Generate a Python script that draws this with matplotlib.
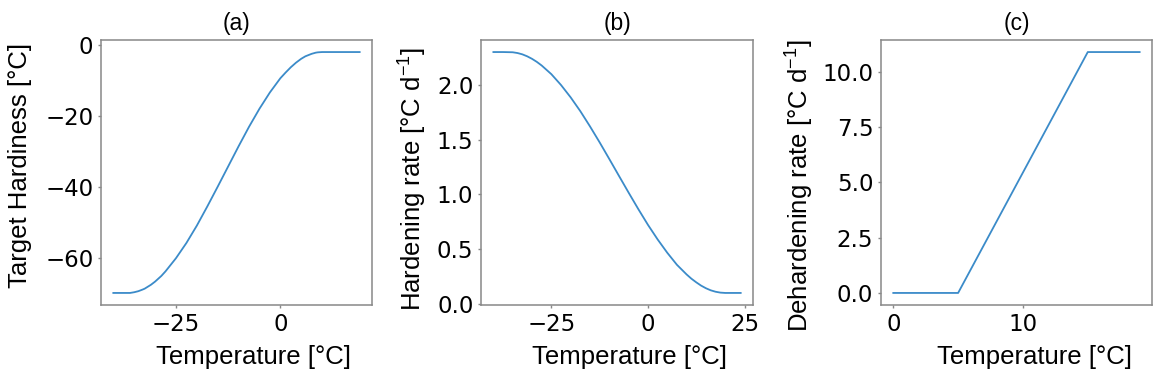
import matplotlib
matplotlib.use('Agg')
import matplotlib.pyplot as plt

plt.rcParams['font.family'] = 'DejaVu Sans'
plt.rcParams['mathtext.fontset'] = 'custom'
plt.rcParams['mathtext.rm'] = 'Liberation Sans'
plt.rcParams['mathtext.default'] = 'regular'

# (a) target hardiness vs temperature
temp_a = [-40, -37.5, -36, -35, -34, -33, -32.5, -31, -30, -28.5, -27.5, -25, -22.5, -20,
          -17.5, -15, -12.5, -10, -7.5, -5, -2.5, 0, 1.25, 2.5, 3.75, 5, 6, 7.5, 8.5, 9, 10,
          12.5, 15, 17.5, 19]
hardiness = [-70, -70, -70, -69.8, -69.5, -69.05, -68.8, -67.7, -66.8, -65.2, -63.9, -60.2,
             -55.9, -51.0, -45.6, -40.0, -34.3, -28.6, -23.1, -18.0, -13.4, -9.4, -7.8, -6.3,
             -5.0, -3.9, -3.2, -2.5, -2.17, -2.08, -2.0, -2.0, -2.0, -2.0, -2.0]

# (b) hardening rate vs temperature
temp_b = [-40, -37.5, -35, -33.75, -32.5, -31.25, -30, -28.75, -27.5, -25, -22.5, -20, -17.5,
          -15, -12.5, -10, -7.5, -5, -2.5, 0, 2.5, 5, 7.5, 10, 11.25, 12.5, 13.75, 15, 16.25,
          17.5, 18.75, 20, 22.5, 24]
hardening = [2.3, 2.3, 2.298, 2.291, 2.279, 2.261, 2.238, 2.210, 2.177, 2.098, 1.999, 1.886,
             1.760, 1.621, 1.475, 1.323, 1.169, 1.016, 0.866, 0.722, 0.589, 0.467, 0.357,
             0.269, 0.230, 0.197, 0.167, 0.143, 0.124, 0.111, 0.103, 0.1, 0.1, 0.1]

# (c) dehardening rate vs temperature
temp_c = [0, 5, 15, 19]
dehardening = [0, 0, 10.9, 10.9]

titles = ['(a)', '(b)', '(c)']
ylabels = ['Target Hardiness [°C]', 'Hardening rate [°C d$^{-1}$]', 'Dehardening rate [°C d$^{-1}$]']
xticks = [[-25, 0], [-25, 0, 25], [0, 10]]

# axes boxes in figure fractions, and label positions in axes fractions
boxes = [[0.0867, 0.1995, 0.2326, 0.6955],
         [0.4129, 0.1995, 0.2335, 0.6955],
         [0.7562, 0.1995, 0.2326, 0.6955]]
ylab_pos = [(-0.299, 0.528), (-0.249, 0.475), (-0.299, 0.451)]
xlab_pos = [0.561, 0.547, 0.565]

line_color = '#3b8bc9'
spine_color = '#888888'
text_font = 'Liberation Sans'

fig = plt.figure(figsize=(11.65, 3.81), dpi=100)

series = [(temp_a, hardiness), (temp_b, hardening), (temp_c, dehardening)]
for i, (x, y) in enumerate(series):
    ax = fig.add_axes(boxes[i])
    ax.plot(x, y, color=line_color, linewidth=1.3)

    ax.set_xticks(xticks[i])
    ax.tick_params(labelsize=16.5, length=2.5, width=1, color=spine_color, pad=3)
    for s in ax.spines.values():
        s.set_color(spine_color)
        s.set_linewidth(1.1)

    ax.set_title(titles[i], fontsize=16.5, family=text_font, pad=7)
    ax.set_ylabel(ylabels[i], fontsize=18.5, family=text_font, va='center')
    ax.set_xlabel('Temperature [°C]', fontsize=18.5, family=text_font, va='center')
    ax.yaxis.set_label_coords(*ylab_pos[i])
    ax.xaxis.set_label_coords(xlab_pos[i], -0.195)

fig.savefig('out.png', dpi=100)
